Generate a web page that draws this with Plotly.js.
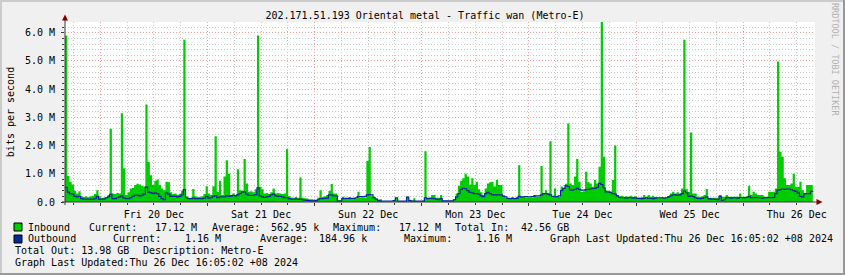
<!DOCTYPE html>
<html>
<head>
<meta charset="utf-8">
<script src="https://cdn.plot.ly/plotly-3.0.1.min.js"></script>
<style>
  html, body { margin: 0; padding: 0; background: #F0F0F0; }
  #chart { width: 845px; height: 275px; }
</style>
</head>
<body>
<div id="chart"></div>
<script>
// ---- DATA (Mbit/s, 30-minute samples starting Thu 19 Dec 16:05:02) ----
const START_UTC = [2024, 11, 19, 16, 5, 2];
const END_UTC = [2024, 11, 26, 16, 5, 2];
const STEP_MINUTES = 30;

const INBOUND_DAY1 = [5.9,0.92,0.72,0.62,0.4,0.3,0.38,0.2,0.18,0.2, 0.17,0.2,0.22,0.28,0.42,0.2,0.15,0.15,0.18,0.25, 2.6,0.3,0.28,0.32,0.3,3.15,1.2,0.25,0.35,0.48, 0.5,0.6,0.65,0.62,0.58,0.55,3.46,1.42,0.95,0.6, 0.75,0.8,0.6,0.48,0.42,0.72,0.7,0.35];
const INBOUND_DAY2 = [0.28,0.3,0.25,0.28,0.4,5.75,0.2,0.15,0.15,0.46, 0.2,0.18,0.19,0.2,0.28,0.56,0.3,0.25,0.56,2.33, 0.36,0.75,0.25,0.9,1.48,1.0,0.25,0.3,0.25,1.16, 0.42,0.4,1.52,0.66,0.36,0.38,0.35,0.45,5.9,0.54, 0.45,0.3,0.32,0.28,0.35,0.48,0.3,0.32];
const INBOUND_DAY3 = [0.3,0.28,0.3,1.87,0.2,0.16,0.15,0.18,0.15,0.87, 0.15,0.13,0.12,0.1,0.1,0.09,0.08,0.15,0.42,0.18, 0.2,0.25,0.39,0.64,0.3,0.3,0.07,0.07,0.19,0.13, 0.13,0.18,0.13,0.12,0.13,0.36,0.15,0.15,0.15,1.45, 1.95,0.2,0.19,0.12,0.09,0.1,0.0,0.0];
const INBOUND_DAY4 = [0.0,0.0,0.0,0.02,0.15,0.03,0.03,0.03,0.03,0.19, 0.08,0.05,0.13,0.03,0.03,0.03,0.05,1.8,0.15,0.15, 0.25,0.25,0.15,0.15,0.25,0.04,0.04,0.04,0.04,0.04, 0.1,0.3,0.58,0.75,0.84,1.0,0.9,0.62,0.84,0.6, 0.72,0.45,0.35,0.25,0.48,0.66,0.7,0.72];
const INBOUND_DAY5 = [0.55,0.78,0.6,0.6,0.25,0.15,0.13,0.13,0.18,0.13, 0.18,1.3,0.19,0.19,0.15,0.15,0.15,0.15,0.25,0.19, 0.19,1.28,0.3,0.42,0.3,2.15,0.2,0.48,0.19,0.19, 0.55,0.5,0.65,2.78,0.66,0.6,0.9,1.52,0.72,0.36, 0.38,1.07,0.7,0.66,0.54,0.78,0.66,1.25];
const INBOUND_DAY6 = [6.5,1.6,0.42,0.36,0.36,0.78,2.0,0.25,0.2,0.22, 0.19,0.2,0.19,0.22,0.18,0.2,0.15,0.15,0.17,0.25, 0.19,0.25,0.19,0.22,0.18,0.15,0.15,0.17,0.15,0.15, 0.2,0.3,0.36,0.3,0.35,0.3,0.48,5.75,0.45,0.36, 2.46,0.3,0.3,0.19,0.19,0.2,0.25,0.46];
const INBOUND_DAY7 = [0.15,0.15,0.15,0.15,0.15,0.25,0.18,0.19,0.25,0.19, 0.19,0.19,0.19,0.19,0.3,0.19,0.19,0.2,0.58,0.25, 0.36,0.3,0.25,0.25,0.25,0.19,0.19,0.36,0.36,0.36, 0.48,4.98,1.78,1.6,0.84,0.6,0.6,0.66,1.0,0.54, 0.54,0.72,0.42,0.3,0.6,0.6,0.6,0.62];

const OUTBOUND_DAY1 = [0.52,0.35,0.3,0.28,0.2,0.18,0.2,0.12,0.1,0.1, 0.1,0.1,0.1,0.12,0.2,0.1,0.1,0.1,0.15,0.18, 0.27,0.12,0.12,0.15,0.18,0.22,0.14,0.12,0.12,0.15, 0.2,0.24,0.24,0.22,0.24,0.28,0.53,0.35,0.33,0.3, 0.32,0.3,0.2,0.12,0.08,0.32,0.28,0.2];
const OUTBOUND_DAY2 = [0.2,0.2,0.18,0.2,0.25,0.44,0.15,0.12,0.12,0.14, 0.12,0.12,0.12,0.12,0.14,0.2,0.14,0.15,0.2,0.22, 0.15,0.18,0.18,0.18,0.22,0.2,0.22,0.24,0.22,0.26, 0.3,0.35,0.36,0.28,0.24,0.24,0.24,0.26,0.5,0.22, 0.18,0.16,0.18,0.2,0.25,0.28,0.22,0.2];
const OUTBOUND_DAY3 = [0.2,0.18,0.15,0.15,0.12,0.1,0.1,0.1,0.09,0.1, 0.08,0.07,0.06,0.05,0.04,0.04,0.05,0.08,0.12,0.12, 0.13,0.14,0.25,0.25,0.22,0.22,0.03,0.03,0.12,0.13, 0.13,0.13,0.13,0.13,0.15,0.19,0.19,0.18,0.2,0.25, 0.26,0.25,0.15,0.1,0.05,0.03,0.03,0.03];
const OUTBOUND_DAY4 = [0.03,0.03,0.03,0.05,0.15,0.03,0.03,0.03,0.03,0.17, 0.05,0.03,0.03,0.03,0.03,0.03,0.03,0.15,0.12,0.13, 0.13,0.12,0.1,0.08,0.12,0.04,0.04,0.04,0.04,0.04, 0.08,0.18,0.3,0.45,0.48,0.47,0.4,0.34,0.32,0.3, 0.3,0.28,0.22,0.19,0.3,0.34,0.3,0.26];
const OUTBOUND_DAY5 = [0.25,0.25,0.25,0.25,0.2,0.18,0.13,0.12,0.13,0.12, 0.13,0.2,0.18,0.18,0.19,0.18,0.18,0.19,0.22,0.22, 0.22,0.25,0.3,0.3,0.28,0.25,0.2,0.19,0.19,0.22, 0.4,0.48,0.58,0.55,0.42,0.42,0.45,0.48,0.45,0.42, 0.42,0.44,0.45,0.46,0.48,0.48,0.52,0.66];
const OUTBOUND_DAY6 = [0.62,0.5,0.36,0.36,0.34,0.3,0.28,0.22,0.16,0.15, 0.15,0.14,0.15,0.15,0.14,0.15,0.13,0.13,0.12,0.13, 0.15,0.13,0.13,0.12,0.14,0.15,0.15,0.15,0.14,0.15, 0.18,0.22,0.25,0.25,0.24,0.25,0.3,0.39,0.32,0.2, 0.22,0.19,0.15,0.13,0.12,0.13,0.15,0.18];
const OUTBOUND_DAY7 = [0.12,0.1,0.1,0.09,0.08,0.2,0.06,0.08,0.15,0.15, 0.14,0.15,0.15,0.14,0.16,0.15,0.15,0.16,0.2,0.15, 0.15,0.16,0.15,0.15,0.14,0.15,0.15,0.16,0.15,0.16, 0.3,0.42,0.44,0.46,0.45,0.46,0.46,0.44,0.4,0.38, 0.32,0.2,0.18,0.3,0.3,0.3,0.38,0.4];

const Y_TICK_VALUES = [0, 1, 2, 3, 4, 5, 6];
const Y_TICK_LABELS = ['0.0', '1.0 M', '2.0 M', '3.0 M', '4.0 M', '5.0 M', '6.0 M'];

const TITLE = '202.171.51.193 Oriental metal - Traffic wan (Metro-E)';
const Y_TITLE = 'bits per second';
const SIDE_TEXT = 'RRDTOOL / TOBI OETIKER';
const LEGEND_IN = ['Inbound', 'Current:', '17.12 M', 'Average:', '562.95 k', 'Maximum:', '17.12 M', 'Total In:', '42.56 GB'];
const LEGEND_OUT = ['Outbound', 'Current:', '1.16 M', 'Average:', '184.96 k', 'Maximum:', '1.16 M', 'Graph Last Updated:Thu 26 Dec 16:05:02 +08 2024'];
const LEGEND_LINE3 = ['Total Out: 13.98 GB', 'Description: Metro-E'];
const LEGEND_LINE4 = ['Graph Last Updated:Thu 26 Dec 16:05:02 +08 2024'];

// ---- BUILD ----
const inbound = [].concat(INBOUND_DAY1, INBOUND_DAY2, INBOUND_DAY3, INBOUND_DAY4, INBOUND_DAY5, INBOUND_DAY6, INBOUND_DAY7);
const outbound = [].concat(OUTBOUND_DAY1, OUTBOUND_DAY2, OUTBOUND_DAY3, OUTBOUND_DAY4, OUTBOUND_DAY5, OUTBOUND_DAY6, OUTBOUND_DAY7);
const startMs = Date.UTC.apply(null, START_UTC);
const endMs = Date.UTC.apply(null, END_UTC);
const times = inbound.map((_, i) => startMs + i * STEP_MINUTES * 60000);

// layout geometry (pixels)
const W = 845, H = 275;
const PL = 65, PR = 815, PT = 22, PB = 202;
const PW = PR - PL, PH = PB - PT;
const px = x => (x - PL) / PW;
const py = y => (PB - y) / PH;

const FONT = 'DejaVu Sans Mono';
const GREEN = '#00CC00';
const BLUE = '#002A97';
const AXIS = '#3a3a3a';
const ARROW = '#7F0000';
const MGRID = '#F0A0A0';
const GRID = '#C8C8C8';

const traces = [
  { x: times, y: inbound, type: 'scatter', mode: 'lines', name: 'Inbound',
    line: { width: 0, shape: 'hv', color: GREEN }, fill: 'tozeroy', fillcolor: GREEN,
    hoverinfo: 'skip' },
  { x: times, y: outbound, type: 'scatter', mode: 'lines', name: 'Outbound',
    line: { width: 1.2, shape: 'hv', color: BLUE }, hoverinfo: 'skip' }
];

function ann(text, x, y, extra) {
  return Object.assign({ text: text, xref: 'paper', yref: 'paper', x: px(x), y: py(y),
    xanchor: 'left', yanchor: 'middle', showarrow: false, borderpad: 0,
    font: { family: FONT, size: 10, color: '#000' } }, extra || {});
}

const inX = [26.5, 88, 154, 210.5, 270, 332, 398, 454, 520];
const outX = [26.5, 112, 184, 259, 318, 402.5, 475, 549];
const annotations = [];
LEGEND_IN.forEach((t, i) => annotations.push(ann(t, inX[i], 227)));
LEGEND_OUT.forEach((t, i) => annotations.push(ann(t, outX[i], 238.5)));
annotations.push(ann(LEGEND_LINE3[0], 14, 250));
annotations.push(ann(LEGEND_LINE3[1], 141.5, 250));
annotations.push(ann(LEGEND_LINE4[0], 14, 262.5));
annotations.push(ann(SIDE_TEXT, 835, 59, { xanchor: 'center', textangle: 90,
  font: { family: FONT, size: 8.5, color: '#B0B0B0' } }));

function tri(points, color) {
  const d = 'M' + points.map(p => px(p[0]) + ',' + py(p[1])).join(' L') + ' Z';
  return { type: 'path', xref: 'paper', yref: 'paper', path: d, fillcolor: color, line: { width: 0 } };
}
function rectPx(x0, y0, x1, y1, fill, lineColor, lw) {
  return { type: 'rect', xref: 'paper', yref: 'paper', x0: px(x0), x1: px(x1), y0: py(y1), y1: py(y0),
    fillcolor: fill, line: { width: lw || 0, color: lineColor || fill }, layer: 'above' };
}
function linePx(x0, y0, x1, y1, color, w) {
  return { type: 'line', xref: 'paper', yref: 'paper', x0: px(x0), x1: px(x1), y0: py(y0), y1: py(y1),
    line: { color: color, width: w } };
}

const shapes = [
  // frame shading
  rectPx(0, 0, 845, 2, '#CBCBCB'),
  rectPx(0, 0, 2, 275, '#CBCBCB'),
  rectPx(0, 273, 845, 275, '#999999'),
  rectPx(843, 0, 845, 275, '#999999'),
  // axes
  linePx(62, 202, 818, 202, AXIS, 1),
  linePx(65, 205, 65, 19, AXIS, 1),
  tri([[62, 20.5], [65, 14.5], [68, 20.5]], ARROW),
  tri([[816.5, 199], [822.5, 202], [816.5, 205]], ARROW),
  // legend swatches
  rectPx(14, 223, 22, 231, GREEN, '#000', 1),
  rectPx(14, 235, 22, 243, BLUE, '#000', 1)
];

const layout = {
  width: W, height: H,
  margin: { l: PL, r: W - PR, t: PT, b: H - PB, pad: 0 },
  paper_bgcolor: '#F0F0F0',
  plot_bgcolor: '#FFFFFF',
  showlegend: false,
  font: { family: FONT, size: 10, color: '#000' },
  title: { text: TITLE, font: { family: FONT, size: 10, color: '#000' },
    xref: 'container', yref: 'container', x: 425 / W, y: 1 - 15 / H, xanchor: 'center', yanchor: 'middle' },
  xaxis: {
    type: 'date',
    range: [startMs, endMs],
    tickmode: 'linear', tick0: '2024-12-20', dtick: 86400000,
    ticklabelmode: 'period', tickformat: '%a %d %b',
    showgrid: true, gridcolor: MGRID, griddash: '1px,2px', gridwidth: 1,
    ticks: 'outside', ticklen: 3, tickcolor: AXIS,
    minor: { tick0: '2024-12-20', dtick: 6 * 3600000, showgrid: true, gridcolor: GRID,
      griddash: '1px,2px', ticks: 'outside', ticklen: 2, tickcolor: AXIS },
    showline: false, zeroline: false, fixedrange: true,
    tickfont: { family: FONT, size: 10, color: '#000' }
  },
  yaxis: {
    range: [0, 6.38],
    tickmode: 'array', tickvals: Y_TICK_VALUES, ticktext: Y_TICK_LABELS,
    showgrid: true, gridcolor: MGRID, griddash: '1px,2px', gridwidth: 1,
    ticks: 'outside', ticklen: 3, tickcolor: AXIS, ticklabelstandoff: 4,
    minor: { tickmode: 'linear', tick0: 0, dtick: 0.2, showgrid: true, gridcolor: GRID,
      griddash: '1px,2px', ticks: 'outside', ticklen: 2, tickcolor: AXIS },
    showline: false, zeroline: false, fixedrange: true,
    tickfont: { family: FONT, size: 10, color: '#000' },
    title: { text: Y_TITLE, font: { family: FONT, size: 10, color: '#000' }, standoff: 8 }
  },
  annotations: annotations,
  shapes: shapes
};

Plotly.newPlot('chart', traces, layout, { staticPlot: true, displayModeBar: false });
</script>
</body>
</html>
